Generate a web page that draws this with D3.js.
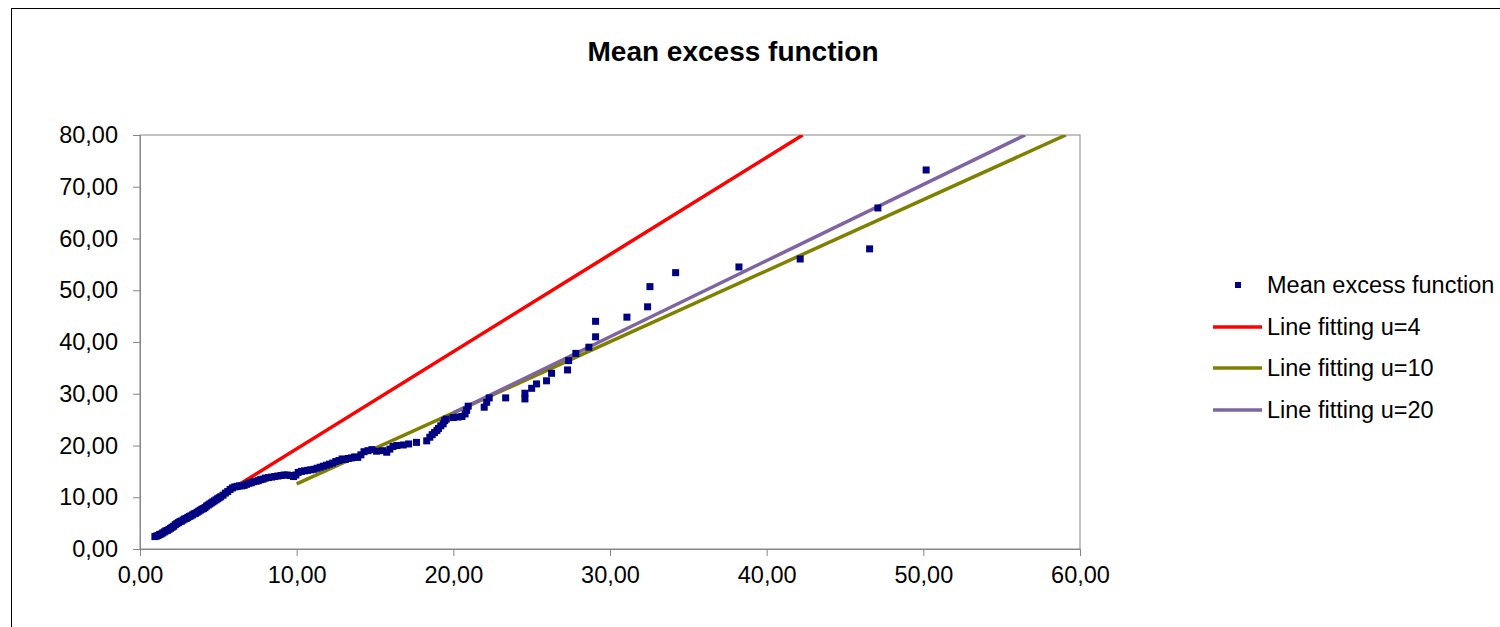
<!DOCTYPE html>
<html>
<head>
<meta charset="utf-8">
<script src="https://cdn.jsdelivr.net/npm/d3@7"></script>
<style>
  body { margin: 0; background: #fff; }
  svg { display: block; font-family: Arial, "Liberation Sans", sans-serif; }
</style>
</head>
<body>
<svg width="1500" height="627"></svg>
<script>
// mean excess function
var meX = [0.95,1.05,1.15,1.25,1.35,1.45,1.55,1.65,1.75,1.85,1.95,2.05,2.15,2.25,2.35,2.45,2.55,2.65,2.75,2.85,
  2.95,3.05,3.15,3.25,3.35,3.45,3.55,3.65,3.75,3.85,3.95,4.05,4.15,4.25,4.35,4.45,4.55,4.65,4.75,4.85,
  4.95,5.05,5.15,5.3,5.45,5.6,5.75,5.9,6.05,6.2,6.35,6.5,6.65,6.8,6.95,7.1,7.25,7.4,7.55,7.7,
  7.85,8.0,8.2,8.4,8.6,8.8,9.0,9.2,9.4,9.6,9.8,9.95,10.1,10.3,10.5,10.7,10.9,11.1,11.3,11.5,
  11.7,11.9,12.1,12.3,12.5,12.7,12.9,13.1,13.3,13.5,13.7,13.9,14.1,14.3,14.55,14.8,15.1,15.5,15.75,15.95,
  16.15,16.4,16.8,17.15,17.65,18.3,18.5,18.65,18.8,18.95,19.05,19.2,19.35,19.45,19.55,19.99,20.3,20.55,20.75,20.85,
  20.95,21.97,22.13,22.29,23.34,24.57,24.57,25.0,25.31,25.95,26.27,27.29,27.36,27.82,28.65,29.08,29.08,31.08,32.4,32.55,
  34.19,38.23,42.14,46.57,47.1,50.18];
var meY = [2.4,2.5,2.6,2.8,2.9,3.1,3.3,3.5,3.6,3.8,4.0,4.2,4.4,4.7,4.9,5.1,5.3,5.4,5.6,5.8,
  5.9,6.1,6.3,6.4,6.6,6.8,6.9,7.1,7.3,7.5,7.7,7.8,8.0,8.3,8.5,8.7,8.9,9.1,9.3,9.5,
  9.7,9.9,10.1,10.4,10.8,11.1,11.5,11.8,12.0,12.1,12.2,12.2,12.3,12.5,12.7,12.8,13.0,13.1,13.2,13.4,
  13.5,13.7,13.8,13.9,14.0,14.1,14.2,14.3,14.3,14.2,14.0,14.3,14.8,15.0,15.1,15.2,15.3,15.4,15.6,15.8,
  16.0,16.2,16.4,16.6,16.9,17.1,17.4,17.3,17.5,17.6,17.8,17.7,18.2,18.8,19.0,19.2,18.9,19.0,18.7,19.3,
  19.8,20.0,20.1,20.3,20.6,20.9,21.6,22.1,22.5,22.9,23.3,23.8,24.2,24.8,25.1,25.4,25.5,25.6,26.1,26.8,
  27.6,27.4,28.35,29.2,29.2,29.0,30.1,31.05,31.9,32.5,33.95,34.6,36.4,37.8,39.0,41.0,44.0,44.8,46.8,50.7,
  53.4,54.5,56.04,58.0,65.9,73.24];

// fitted lines: [start, end] in data units
var fitU4  = [[4, 8.1], [42.3, 80]];
var fitU10 = [[10, 12.6], [59.1, 80]];
var fitU20 = [[20, 26.3], [56.5, 80]];

var xTicks = [0, 10, 20, 30, 40, 50, 60];
var yTicks = [0, 10, 20, 30, 40, 50, 60, 70, 80];

var seriesNames = ["Mean excess function", "Line fitting u=4", "Line fitting u=10", "Line fitting u=20"];
var seriesColors = ["#000080", "#ff0000", "#808000", "#8064a2"];

var margin = {top: 135, left: 140};
var width = 940, height = 414;

var svg = d3.select("svg");

// chart border
svg.append("rect")
    .attr("x", 11.5).attr("y", 8.5)
    .attr("width", 1520).attr("height", 700)
    .attr("fill", "#fff")
    .attr("stroke", "#000")
    .attr("stroke-width", 1);

svg.append("text")
    .attr("x", 733).attr("y", 61)
    .attr("text-anchor", "middle")
    .attr("font-size", 28)
    .attr("font-weight", "bold")
    .text("Mean excess function");

var x = d3.scaleLinear().domain([0, 60]).range([0, width]);
var y = d3.scaleLinear().domain([0, 80]).range([height, 0]);

var fmt = function(d) { return d3.format(".2f")(d).replace(".", ","); };

var g = svg.append("g").attr("transform", "translate(" + margin.left + "," + margin.top + ")");

g.append("rect")
    .attr("width", width).attr("height", height)
    .attr("fill", "#fff")
    .attr("stroke", "#868686");

g.append("clipPath").attr("id", "plot")
  .append("rect").attr("width", width).attr("height", height);

var xAxis = g.append("g")
    .attr("transform", "translate(0," + height + ")")
    .call(d3.axisBottom(x).tickValues(xTicks).tickFormat(fmt).tickSize(7).tickPadding(10));
var yAxis = g.append("g")
    .call(d3.axisLeft(y).tickValues(yTicks).tickFormat(fmt).tickSize(7).tickPadding(15));

[xAxis, yAxis].forEach(function(a) {
  a.select(".domain").attr("stroke", "#868686");
  a.selectAll(".tick line").attr("stroke", "#868686");
  a.selectAll(".tick text").attr("font-size", 23.5).attr("fill", "#000")
    .attr("font-family", "Arial, 'Liberation Sans', sans-serif");
});

var line = d3.line().x(function(d) { return x(d[0]); }).y(function(d) { return y(d[1]); });

var fits = g.append("g").attr("clip-path", "url(#plot)");
[fitU4, fitU10, fitU20].forEach(function(f, i) {
  fits.append("path")
      .attr("d", line(f))
      .attr("fill", "none")
      .attr("stroke", seriesColors[i + 1])
      .attr("stroke-width", 3.5);
});

g.append("g").selectAll("rect")
    .data(meX.map(function(v, i) { return [v, meY[i]]; }))
    .enter().append("rect")
      .attr("x", function(d) { return x(d[0]) - 3.5; })
      .attr("y", function(d) { return y(d[1]) - 3.5; })
      .attr("width", 7).attr("height", 7)
      .attr("fill", seriesColors[0]);

// legend
var legend = svg.append("g").attr("transform", "translate(1213,285)");
var item = legend.selectAll("g")
    .data(seriesNames)
    .enter().append("g")
      .attr("transform", function(d, i) { return "translate(0," + [0, 42, 83, 125][i] + ")"; });

item.each(function(d, i) {
  var it = d3.select(this);
  if (i == 0) {
    it.append("rect").attr("x", 22).attr("y", -3).attr("width", 6).attr("height", 6)
      .attr("fill", seriesColors[0]);
  } else {
    it.append("line").attr("x1", 0).attr("x2", 49).attr("y1", 0).attr("y2", 0)
      .attr("stroke", seriesColors[i]).attr("stroke-width", 3.5);
  }
});

item.append("text")
    .attr("x", 54)
    .attr("dy", "0.36em")
    .attr("font-size", 23.5)
    .text(function(d) { return d; });
</script>
</body>
</html>
